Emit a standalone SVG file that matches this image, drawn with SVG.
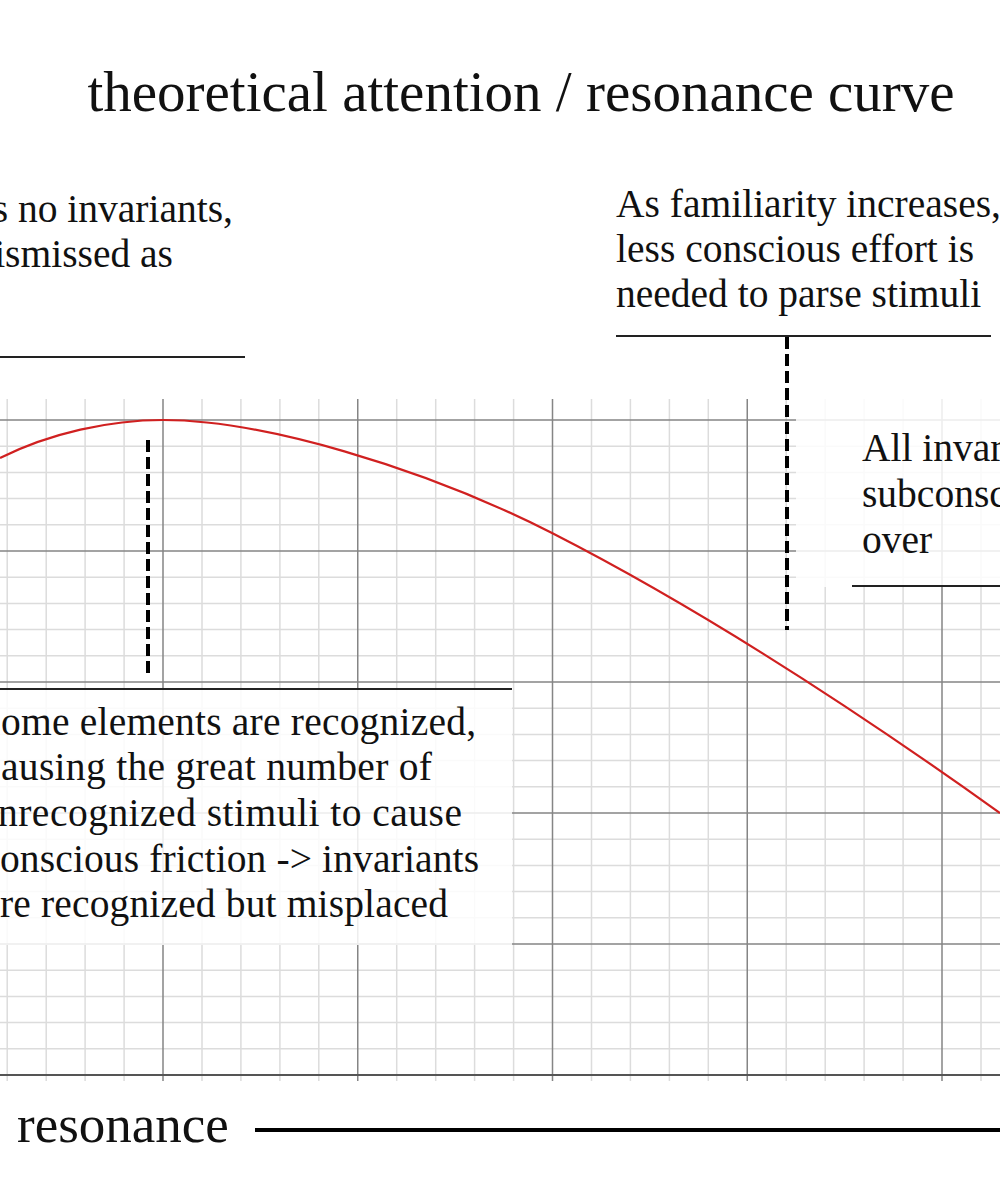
<svg xmlns="http://www.w3.org/2000/svg" width="1000" height="1200" viewBox="0 0 1000 1200">
<style>
.minor{stroke:#dcdcdc;stroke-width:1.5;fill:none}
.major{stroke:#858585;stroke-width:1.5;fill:none}
.axis{stroke:#555;stroke-width:2;fill:none}
.txt{font-family:"Liberation Serif","Times New Roman",serif;fill:#111}
.body{font-size:39.5px}
.rule{stroke:#222;stroke-width:2;fill:none}
.dash{stroke:#000;stroke-width:4;stroke-dasharray:12 5;fill:none}
.veil{fill:#fff;fill-opacity:0.85}
</style>
<rect width="1000" height="1200" fill="#fff"/>
<g id="grid">
<path class="minor" d="M7.2 399V1081M46.2 399V1081M85.1 399V1081M124.1 399V1081M202 399V1081M240.9 399V1081M279.9 399V1081M318.8 399V1081M396.7 399V1081M435.7 399V1081M474.6 399V1081M513.6 399V1081M591.5 399V1081M630.4 399V1081M669.4 399V1081M708.3 399V1081M786.2 399V1081M825.2 399V1081M864.1 399V1081M903.1 399V1081M981 399V1081
M0 446.2H1000M0 472.4H1000M0 498.6H1000M0 524.8H1000M0 577.2H1000M0 603.4H1000M0 629.6H1000M0 655.8H1000M0 708.2H1000M0 734.4H1000M0 760.6H1000M0 786.8H1000M0 839.2H1000M0 865.4H1000M0 891.6H1000M0 917.8H1000M0 970.2H1000M0 996.4H1000M0 1022.6H1000M0 1048.8H1000"/>
<path class="major" d="M163 399V1081M357.75 399V1081M552.5 399V1081M747.25 399V1081M942 399V1081M0 420H1000M0 551H1000M0 682H1000M0 813H1000M0 944H1000"/>
<path class="axis" d="M0 1075H1000"/>
</g>
<path id="curve" d="M0 458C50 433 110 420 163 420C260 420 420 466 552 533C650 583 800 670 1000 813" fill="none" stroke="#d02020" stroke-width="2.2"/>
<g id="veils">
<rect class="veil" x="0" y="689" width="512" height="256"/>
<rect class="veil" x="796" y="395" width="204" height="192"/>
</g>
<g id="connectors">
<path class="dash" d="M148 440V677"/>
<path class="dash" d="M787 337V630"/>
</g>
<g id="title"><text class="txt" x="521" y="111" font-size="57" text-anchor="middle">theoretical attention / resonance curve</text></g>
<g id="note-no-invariants">
<text class="txt body" x="233" y="222" text-anchor="end">s no invariants,</text>
<text class="txt body" x="173" y="267" text-anchor="end">ismissed as</text>
<path class="rule" d="M0 357H245"/>
</g>
<g id="note-familiarity">
<text class="txt body" x="616" y="217">As familiarity increases,</text>
<text class="txt body" x="616" y="262">less conscious effort is</text>
<text class="txt body" x="616" y="307">needed to parse stimuli</text>
<path class="rule" d="M616 336H991"/>
</g>
<g id="note-all-invariants">
<text class="txt body" x="862" y="461">All invar</text>
<text class="txt body" x="862" y="507">subconsc</text>
<text class="txt body" x="862" y="553">over</text>
<path class="rule" d="M852 586H1000"/>
</g>
<g id="note-some-elements">
<path class="rule" d="M0 689H512"/>
<text class="txt body" x="1" y="735" textLength="475" lengthAdjust="spacing">ome elements are recognized,</text>
<text class="txt body" x="1" y="780" textLength="431" lengthAdjust="spacing">ausing the great number of</text>
<text class="txt body" x="-2" y="826" textLength="464" lengthAdjust="spacing">nrecognized stimuli to cause</text>
<text class="txt body" x="0" y="872" textLength="479" lengthAdjust="spacing">onscious friction -&gt; invariants</text>
<text class="txt body" x="0" y="917" textLength="448" lengthAdjust="spacing">re recognized but misplaced</text>
</g>
<g id="axis-label">
<text class="txt" x="17" y="1142" font-size="53">resonance</text>
<path d="M255 1130H1000" stroke="#000" stroke-width="4"/>
</g>
</svg>
